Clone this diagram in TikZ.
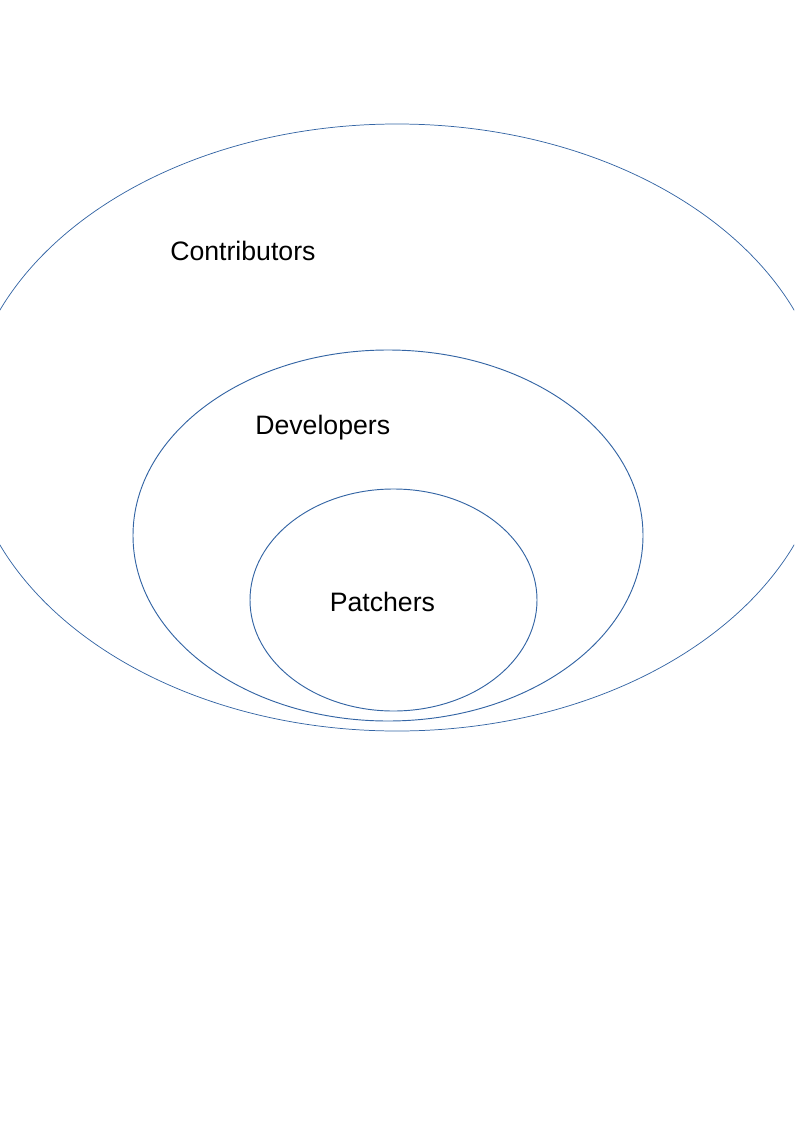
\documentclass[tikz,border=0pt]{standalone}
\usepackage{fontspec}
\setmainfont{Liberation Sans}
\definecolor{lineblue}{HTML}{3465A4}
\begin{document}
\begin{tikzpicture}[x=0.75pt,y=-0.75pt,
  ring/.style={draw=lineblue,line width=0.7pt},
  lbl/.style={font=\fontsize{20pt}{24pt}\selectfont,inner sep=0pt,anchor=base west}]
\useasboundingbox (0,0) rectangle (794,1123);
\begin{scope}
\clip (0,0) rectangle (794,1123);
\draw[ring,line width=0.55pt] (397,427.5) ellipse [x radius=430.5, y radius=303.5];
\end{scope}
\draw[ring] (388,535.5) ellipse [x radius=255, y radius=185.5];
\draw[ring] (393.5,600) ellipse [x radius=143.5, y radius=111];
\node[lbl] (contrib) at (170,260) {Contributors};
\node[lbl] (dev) at (255,434) {Developers};
\node[lbl] (patch) at (329.5,611) {Patchers};
\end{tikzpicture}
\end{document}
